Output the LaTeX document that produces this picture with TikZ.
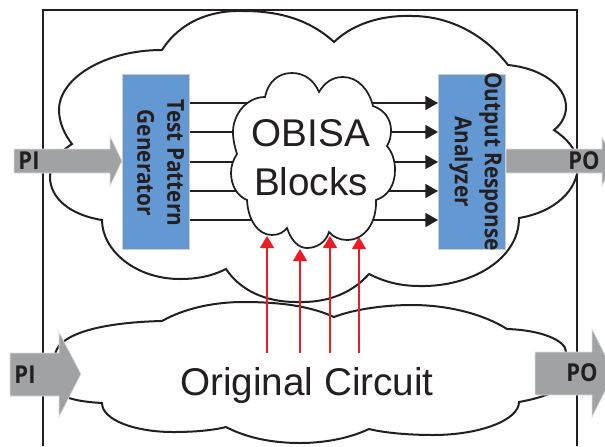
\documentclass[tikz,border=0pt]{standalone}
\usepackage{fontspec}
\usetikzlibrary{arrows.meta}
\setmainfont{Liberation Sans}
\newfontfamily\barfont[FakeStretch=0.89]{Open Sans}
\definecolor{inkblack}{HTML}{231F20}
\definecolor{blockblue}{HTML}{6498D2}
\definecolor{arrowgray}{HTML}{A0A2A3}
\definecolor{wirered}{HTML}{ED1C24}
\tikzset{
  cloudline/.style={draw=inkblack,line width=1.5pt,line join=miter},
  block/.style={draw=black!20,fill=blockblue,line width=0.7pt,minimum width=131.25pt,minimum height=50.25pt,rotate=-90,inner sep=0pt},
  blocktext/.style={rotate=-90,align=center,inner sep=0pt,text=inkblack,font=\barfont\bfseries\fontsize{17.5}{22.5}\selectfont},
  bigarrow/.style={fill=arrowgray,draw=black!12,line width=0.5pt},
  portlabel/.style={inner sep=0pt,text=inkblack,font=\barfont\bfseries\fontsize{18.5}{20}\selectfont},
  bigtext/.style={inner sep=0pt,align=center,text=inkblack,font=\fontsize{29}{36.5}\selectfont},
  wire/.style={draw=inkblack,line width=1pt,-{Triangle[length=9.5pt,width=10.5pt]}},
  redwire/.style={draw=wirered,line width=1pt,-{Triangle[length=9pt,width=10.5pt]}}
}
\begin{document}
\begin{tikzpicture}[x=0.75pt,y=-0.75pt]
\useasboundingbox (0,0) rectangle (605,446);

% Outer frame, open at the bottom
\draw [draw=inkblack,line width=2.1pt] (43,446) -- (43,10) -- (577,10) -- (577,446);

% Upper cloud
\draw [cloudline] (162,50) .. controls (180,22) and (210,10) .. (243,11)
  .. controls (280,11) and (310,20) .. (334,42)
  .. controls (355,22) and (385,15) .. (412,16)
  .. controls (450,16) and (485,35) .. (508,65)
  .. controls (540,68) and (566,85) .. (566,107)
  .. controls (566,115) and (562,124) .. (554,130)
  .. controls (566,138) and (578,150) .. (578,165)
  .. controls (578,190) and (555,212) .. (519,218)
  .. controls (519,260) and (470,287) .. (420,286)
  .. controls (400,286) and (385,282) .. (369,274)
  .. controls (350,295) and (325,303) .. (296,302)
  .. controls (265,302) and (240,290) .. (226,269)
  .. controls (210,277) and (195,279) .. (180,279)
  .. controls (135,279) and (102,250) .. (102,220)
  .. controls (70,215) and (50,198) .. (50,177)
  .. controls (50,165) and (58,153) .. (72,144)
  .. controls (65,135) and (59,123) .. (59,110)
  .. controls (59,78) and (105,50) .. (162,50) -- cycle;

% Lower cloud
\draw [cloudline] (162,321) .. controls (185,308) and (215,302) .. (243,302)
  .. controls (280,302) and (310,306) .. (334,317)
  .. controls (355,309) and (385,305) .. (412,305)
  .. controls (450,305) and (485,315) .. (507,329)
  .. controls (540,330) and (566,340) .. (566,352)
  .. controls (580,370) and (575,392) .. (519,402)
  .. controls (519,420) and (480,435) .. (433,435)
  .. controls (410,435) and (385,433) .. (369,429)
  .. controls (350,438) and (325,443) .. (300,443)
  .. controls (270,443) and (245,437) .. (226,427)
  .. controls (210,431) and (190,432) .. (173,432)
  .. controls (135,432) and (102,420) .. (102,403)
  .. controls (85,402) and (70,400) .. (60,394)
  .. controls (50,385) and (50,350) .. (63,342)
  .. controls (80,328) and (120,322) .. (162,321) -- cycle;

% Blocks on both sides
\node [block] (tpg) at (156,161.5) {};
\node [block] (ora) at (472,161.5) {};
\node [blocktext] (tpgtext) at (160.5,163) {Test Pattern\\Generator};
\node [blocktext] (oratext) at (475.5,161.5) {Output Response\\Analyzer};

% Rows of wires, the cloud is drawn over them
\foreach \y [count=\i] in {103,132,162,191,220} {
  \coordinate (row\i) at (300,\y);
  \draw [wire] (tpg.north |- row\i) -- (ora.south |- row\i);
}

% Middle cloud
\draw [cloudline,fill=white,line width=1.3pt] (265,97) .. controls (268,82) and (278,73) .. (292,73)
  .. controls (304,73) and (314,80) .. (319,92)
  .. controls (325,82) and (333,77) .. (343,77)
  .. controls (358,77) and (369,90) .. (373,106)
  .. controls (385,110) and (391,120) .. (391,130)
  .. controls (391,136) and (390,141) .. (387,146)
  .. controls (392,152) and (395,160) .. (395,170)
  .. controls (395,185) and (388,196) .. (376,200)
  .. controls (377,222) and (365,240) .. (347,240)
  .. controls (340,240) and (333,237) .. (329,232)
  .. controls (326,242) and (317,248) .. (307,248)
  .. controls (298,248) and (291,240) .. (287,228)
  .. controls (284,232) and (279,235) .. (272,235)
  .. controls (258,235) and (248,220) .. (247,200)
  .. controls (237,196) and (231,185) .. (231,173)
  .. controls (231,166) and (233,160) .. (237,154)
  .. controls (235,148) and (233,140) .. (233,132)
  .. controls (233,114) and (247,97) .. (265,97) -- cycle;
\node [bigtext] (obisa) at (311,157.5) {OBISA\\Blocks};
\node [bigtext] (orig) at (307,385) {Original Circuit};

% Red wires from the lower cloud up to the middle cloud
\coordinate (red1) at (267,353);
\coordinate (red2) at (300,353);
\coordinate (red3) at (330,353);
\coordinate (red4) at (359,353);
\coordinate (tip1) at (267,236);
\coordinate (tip2) at (300,249);
\coordinate (tip3) at (330,236);
\coordinate (tip4) at (359,237);
\foreach \i in {1,2,3,4}
  \draw [redwire] (red\i) -- (tip\i);

% Grey arrows with their port names
\fill [bigarrow] (14,149) -- (110,149) -- (110,136) -- (122,161) -- (110,186) -- (110,173) -- (14,173) -- cycle;
\fill [bigarrow] (506,149) -- (602,149) -- (602,137) -- (614,161) -- (602,186) -- (602,173) -- (506,173) -- cycle;
\fill [bigarrow] (10,353) -- (59,353) -- (59,332) -- (81,374) -- (59,417) -- (59,396) -- (10,396) -- cycle;
\fill [bigarrow] (535,352) -- (592,352) -- (592,329) -- (614,373) -- (592,417) -- (592,395) -- (535,395) -- cycle;
\node [portlabel] (pitop) at (29,161) {PI};
\node [portlabel] (potop) at (584,161) {PO};
\node [portlabel] (pibot) at (25,375) {PI};
\node [portlabel] (pobot) at (582,373) {PO};

\end{tikzpicture}
\end{document}
